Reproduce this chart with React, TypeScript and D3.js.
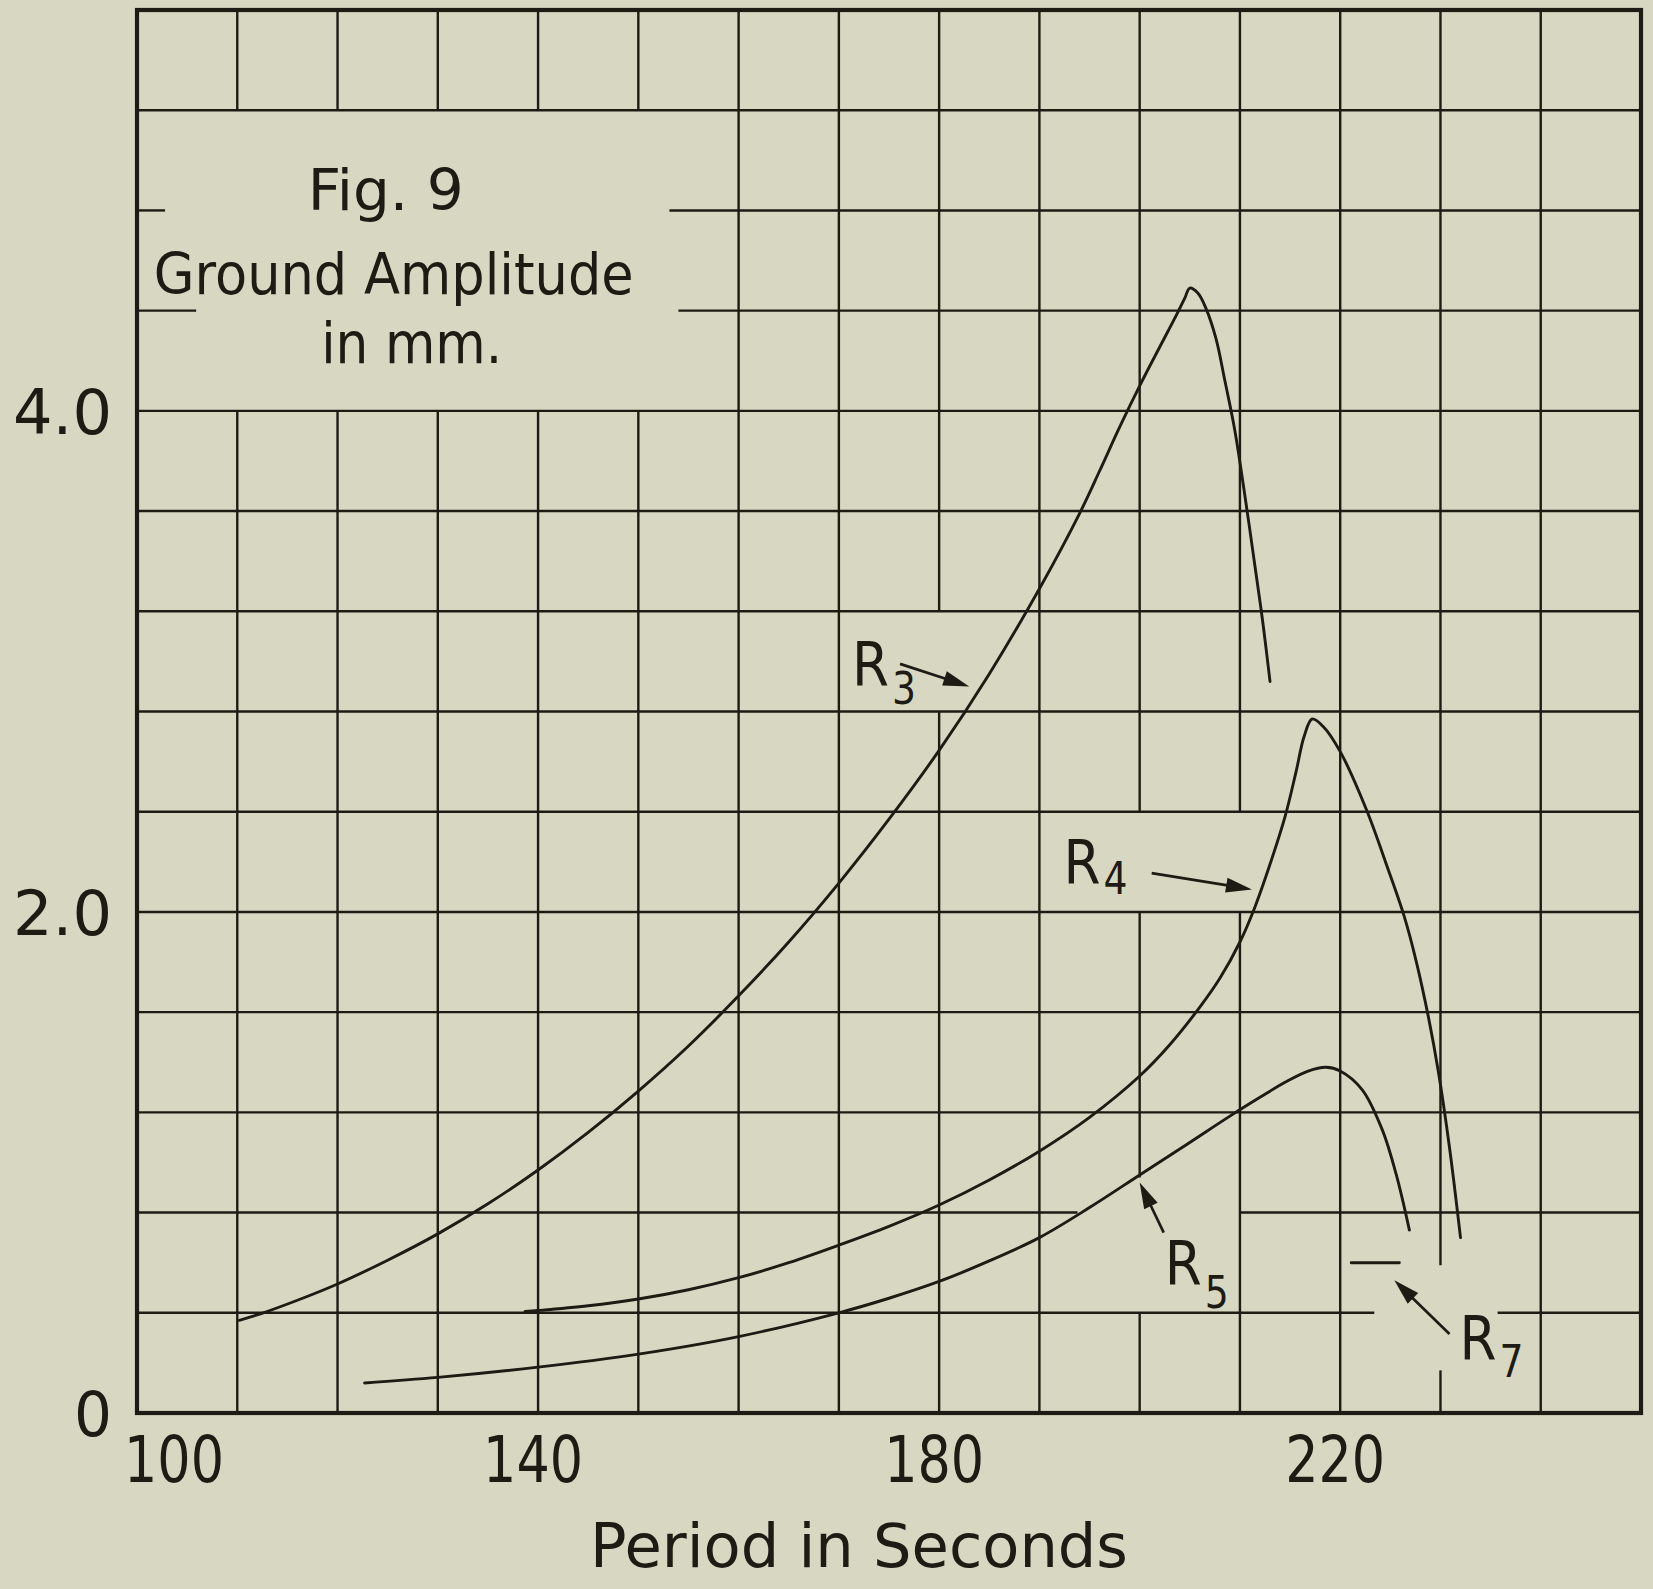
import React from 'react';
import * as d3 from 'd3';

// Period (s) / ground amplitude (mm) readings for each wave group
const r3: [number, number][] = [
  [110.2, 0.37], [112.6, 0.4], [116, 0.45], [120, 0.515], [125, 0.61], [130, 0.715],
  [135, 0.835], [140, 0.97], [145, 1.12], [150, 1.285], [155, 1.465], [160, 1.665],
  [165, 1.88], [170, 2.115], [175, 2.37], [180, 2.645], [185, 2.95], [190, 3.29],
  [194, 3.59], [196, 3.76], [198, 3.935], [200, 4.1], [202, 4.255], [203.7, 4.385],
  [204.5, 4.45], [205, 4.49], [205.8, 4.47], [206.6, 4.41], [207.6, 4.29], [208.5, 4.12],
  [209.5, 3.92], [210.5, 3.66], [211.5, 3.38], [212.3, 3.15], [213, 2.92],
];
const r4: [number, number][] = [
  [138.7, 0.405], [140, 0.409], [145, 0.428], [150, 0.455], [155, 0.492], [160, 0.54],
  [165, 0.6], [170, 0.67], [175, 0.745], [180, 0.83], [185, 0.93], [190, 1.045],
  [195, 1.18], [200, 1.345], [203, 1.47], [206, 1.62], [208, 1.735], [210, 1.88],
  [211.5, 2.02], [213, 2.19], [214.5, 2.38], [215.6, 2.56], [216.4, 2.7], [217.2, 2.77],
  [218.3, 2.74], [220, 2.64], [222.7, 2.4], [224.6, 2.19], [226.4, 1.98], [227.6, 1.8],
  [228.8, 1.58], [229.8, 1.36], [230.9, 1.06], [232, 0.7],
];
const r5: [number, number][] = [
  [122.7, 0.12], [130, 0.142], [140, 0.183], [150, 0.235], [160, 0.305], [170, 0.4],
  [175, 0.458], [180, 0.525], [185, 0.607], [190, 0.7], [195, 0.82], [200, 0.95],
  [205, 1.08], [209, 1.185], [212, 1.26], [214.5, 1.32], [216.8, 1.365], [218.6, 1.38],
  [220, 1.365], [222.2, 1.29], [224.2, 1.13], [225.6, 0.95], [226.9, 0.73],
];
const r7: [number, number][] = [[221.1, 0.6], [225.9, 0.6]];

const periodTicks = [100, 140, 180, 220];
const amplitudeTicks = [0, 2, 4];
const amplitudeTickLabels = ['0', '2.0', '4.0'];

// grid lines are left out where the draughtsman lettered over them
const hGridGaps: [number, [number, number][]][] = [
  [4.8, [[102.8, 153.1]]],
  [4.4, [[105.9, 154.0]]],
  [0.8, [[193.8, 210]]],
  [0.4, [[223.4, 235.7]]],
];
const vGridGaps: [number, [number, number][]][] = [
  [110, [[4.0, 5.2]]],
  [120, [[4.0, 5.2]]],
  [130, [[4.0, 5.2]]],
  [140, [[4.0, 5.2]]],
  [150, [[4.0, 5.2]]],
  [180, [[2.8, 3.2]]],
  [200, [[0.4, 0.94], [2.0, 2.4]]],
  [210, [[2.0, 2.4]]],
  [230, [[0.17, 0.59]]],
];

// curve labels: R + subscript, with arrow tail -> tip (data units)
const curveLabels = [
  { sub: '3', rx: 171.3, ry: 2.9, sx: 175.3, sy: 2.83, from: [176.1, 2.99], to: [183.0, 2.9] },
  { sub: '4', rx: 192.4, ry: 2.11, sx: 196.4, sy: 2.07, from: [201.2, 2.155], to: [211.2, 2.09] },
  { sub: '5', rx: 202.5, ry: 0.51, sx: 206.5, sy: 0.42, from: [202.4, 0.72], to: [200.0, 0.92] },
  { sub: '7', rx: 231.9, ry: 0.21, sx: 235.9, sy: 0.145, from: [230.9, 0.315], to: [225.4, 0.53] },
];

const titleLines = [
  { text: 'Fig. 9', px: 124.8, amp: 4.8, len: 156 },
  { text: 'Ground Amplitude', px: 125.6, amp: 4.465, len: 480 },
  { text: 'in mm.', px: 127.4, amp: 4.19, len: 181 },
];

const W = 1653;
const H = 1589;
const BG = '#d8d8c2';
const INK = '#1d1b14';
const FONT = '"DejaVu Sans", "Liberation Sans", sans-serif';

function splitRange(lo: number, hi: number, gaps: [number, number][]) {
  const segs: [number, number][] = [];
  let start = lo;
  gaps.slice().sort((a, b) => a[0] - b[0]).forEach(([a, b]) => {
    if (a > start) segs.push([start, a]);
    start = Math.max(start, b);
  });
  if (start < hi) segs.push([start, hi]);
  return segs;
}

export default function App() {
  const x = d3.scaleLinear().domain([100, 250]).range([137, 1641]);
  const y = d3.scaleLinear().domain([0, 5.6]).range([1413, 10]);

  const line = d3
    .line<[number, number]>()
    .x((d) => x(d[0]))
    .y((d) => y(d[1]))
    .curve(d3.curveCatmullRom.alpha(0.5));

  const hValues = d3.range(1, 14).map((i) => +(i * 0.4).toFixed(1));
  const vValues = d3.range(110, 250, 10);

  const gapsFor = (list: [number, [number, number][]][], v: number) =>
    list.find((g) => Math.abs(g[0] - v) < 1e-6)?.[1] ?? [];

  const arrow = (from: number[], to: number[]) => {
    const x0 = x(from[0]), y0 = y(from[1]);
    const x1 = x(to[0]), y1 = y(to[1]);
    const len = Math.hypot(x1 - x0, y1 - y0);
    const ux = (x1 - x0) / len, uy = (y1 - y0) / len;
    const L = 26, hw = 7.5;
    const bx = x1 - ux * L, by = y1 - uy * L;
    const head = `M${x1},${y1}L${bx - uy * hw},${by + ux * hw}L${bx + uy * hw},${by - ux * hw}Z`;
    return { shaft: `M${x0},${y0}L${bx + ux * 6},${by + uy * 6}`, head };
  };

  return (
    <svg
      width={W}
      height={H}
      viewBox={`0 0 ${W} ${H}`}
      style={{ position: 'absolute', left: 0, top: 0, display: 'block' }}
    >
      <rect x={0} y={0} width={W} height={H} fill={BG} />

      <g stroke={INK} strokeWidth={2.4} fill="none">
        {hValues.map((v) =>
          splitRange(100, 250, gapsFor(hGridGaps, v)).map(([a, b], i) => (
            <line key={`h${v}-${i}`} x1={x(a)} x2={x(b)} y1={y(v)} y2={y(v)} />
          ))
        )}
        {vValues.map((v) =>
          splitRange(0, 5.6, gapsFor(vGridGaps, v)).map(([a, b], i) => (
            <line key={`v${v}-${i}`} x1={x(v)} x2={x(v)} y1={y(a)} y2={y(b)} />
          ))
        )}
      </g>

      <rect
        x={x(100)}
        y={y(5.6)}
        width={x(250) - x(100)}
        height={y(0) - y(5.6)}
        fill="none"
        stroke={INK}
        strokeWidth={4.2}
      />

      <g fill="none" stroke={INK} strokeWidth={2.9} strokeLinecap="round">
        {[r3, r4, r5].map((s, i) => (
          <path key={i} d={line(s) ?? ''} />
        ))}
        <path d={d3.line()(r7.map((d) => [x(d[0]), y(d[1])] as [number, number])) ?? ''} />
      </g>

      <g fontFamily={FONT} fill={INK}>
        {curveLabels.map((c) => {
          const a = arrow(c.from, c.to);
          return (
            <g key={c.sub}>
              <path d={a.shaft} stroke={INK} strokeWidth={2.7} fill="none" />
              <path d={a.head} fill={INK} />
              <text x={x(c.rx)} y={y(c.ry)} fontSize={60} textLength={37} lengthAdjust="spacingAndGlyphs">
                R
              </text>
              <text x={x(c.sx)} y={y(c.sy)} fontSize={44} textLength={24} lengthAdjust="spacingAndGlyphs">
                {c.sub}
              </text>
            </g>
          );
        })}

        {titleLines.map((t) => (
          <text
            key={t.text}
            x={x(t.px)}
            y={y(t.amp)}
            fontSize={57}
            textAnchor="middle"
            textLength={t.len}
            lengthAdjust="spacingAndGlyphs"
          >
            {t.text}
          </text>
        ))}

        {amplitudeTicks.map((v, i) => (
          <text
            key={v}
            x={x(100) - 25}
            y={y(v)}
            dy="0.36em"
            fontSize={63}
            textAnchor="end"
            textLength={amplitudeTickLabels[i].length === 1 ? 38 : 99}
            lengthAdjust="spacingAndGlyphs"
          >
            {amplitudeTickLabels[i]}
          </text>
        ))}

        {periodTicks.map((v, i) => (
          <text
            key={v}
            x={x(v) + (i === 0 ? 37 : -5)}
            y={y(0) + 69}
            fontSize={64}
            textAnchor="middle"
            textLength={100}
            lengthAdjust="spacingAndGlyphs"
          >
            {v}
          </text>
        ))}

        <text
          x={(x(100) + x(250)) / 2 - 30}
          y={1567}
          fontSize={60}
          textAnchor="middle"
          textLength={538}
          lengthAdjust="spacingAndGlyphs"
        >
          Period in Seconds
        </text>
      </g>
    </svg>
  );
}
